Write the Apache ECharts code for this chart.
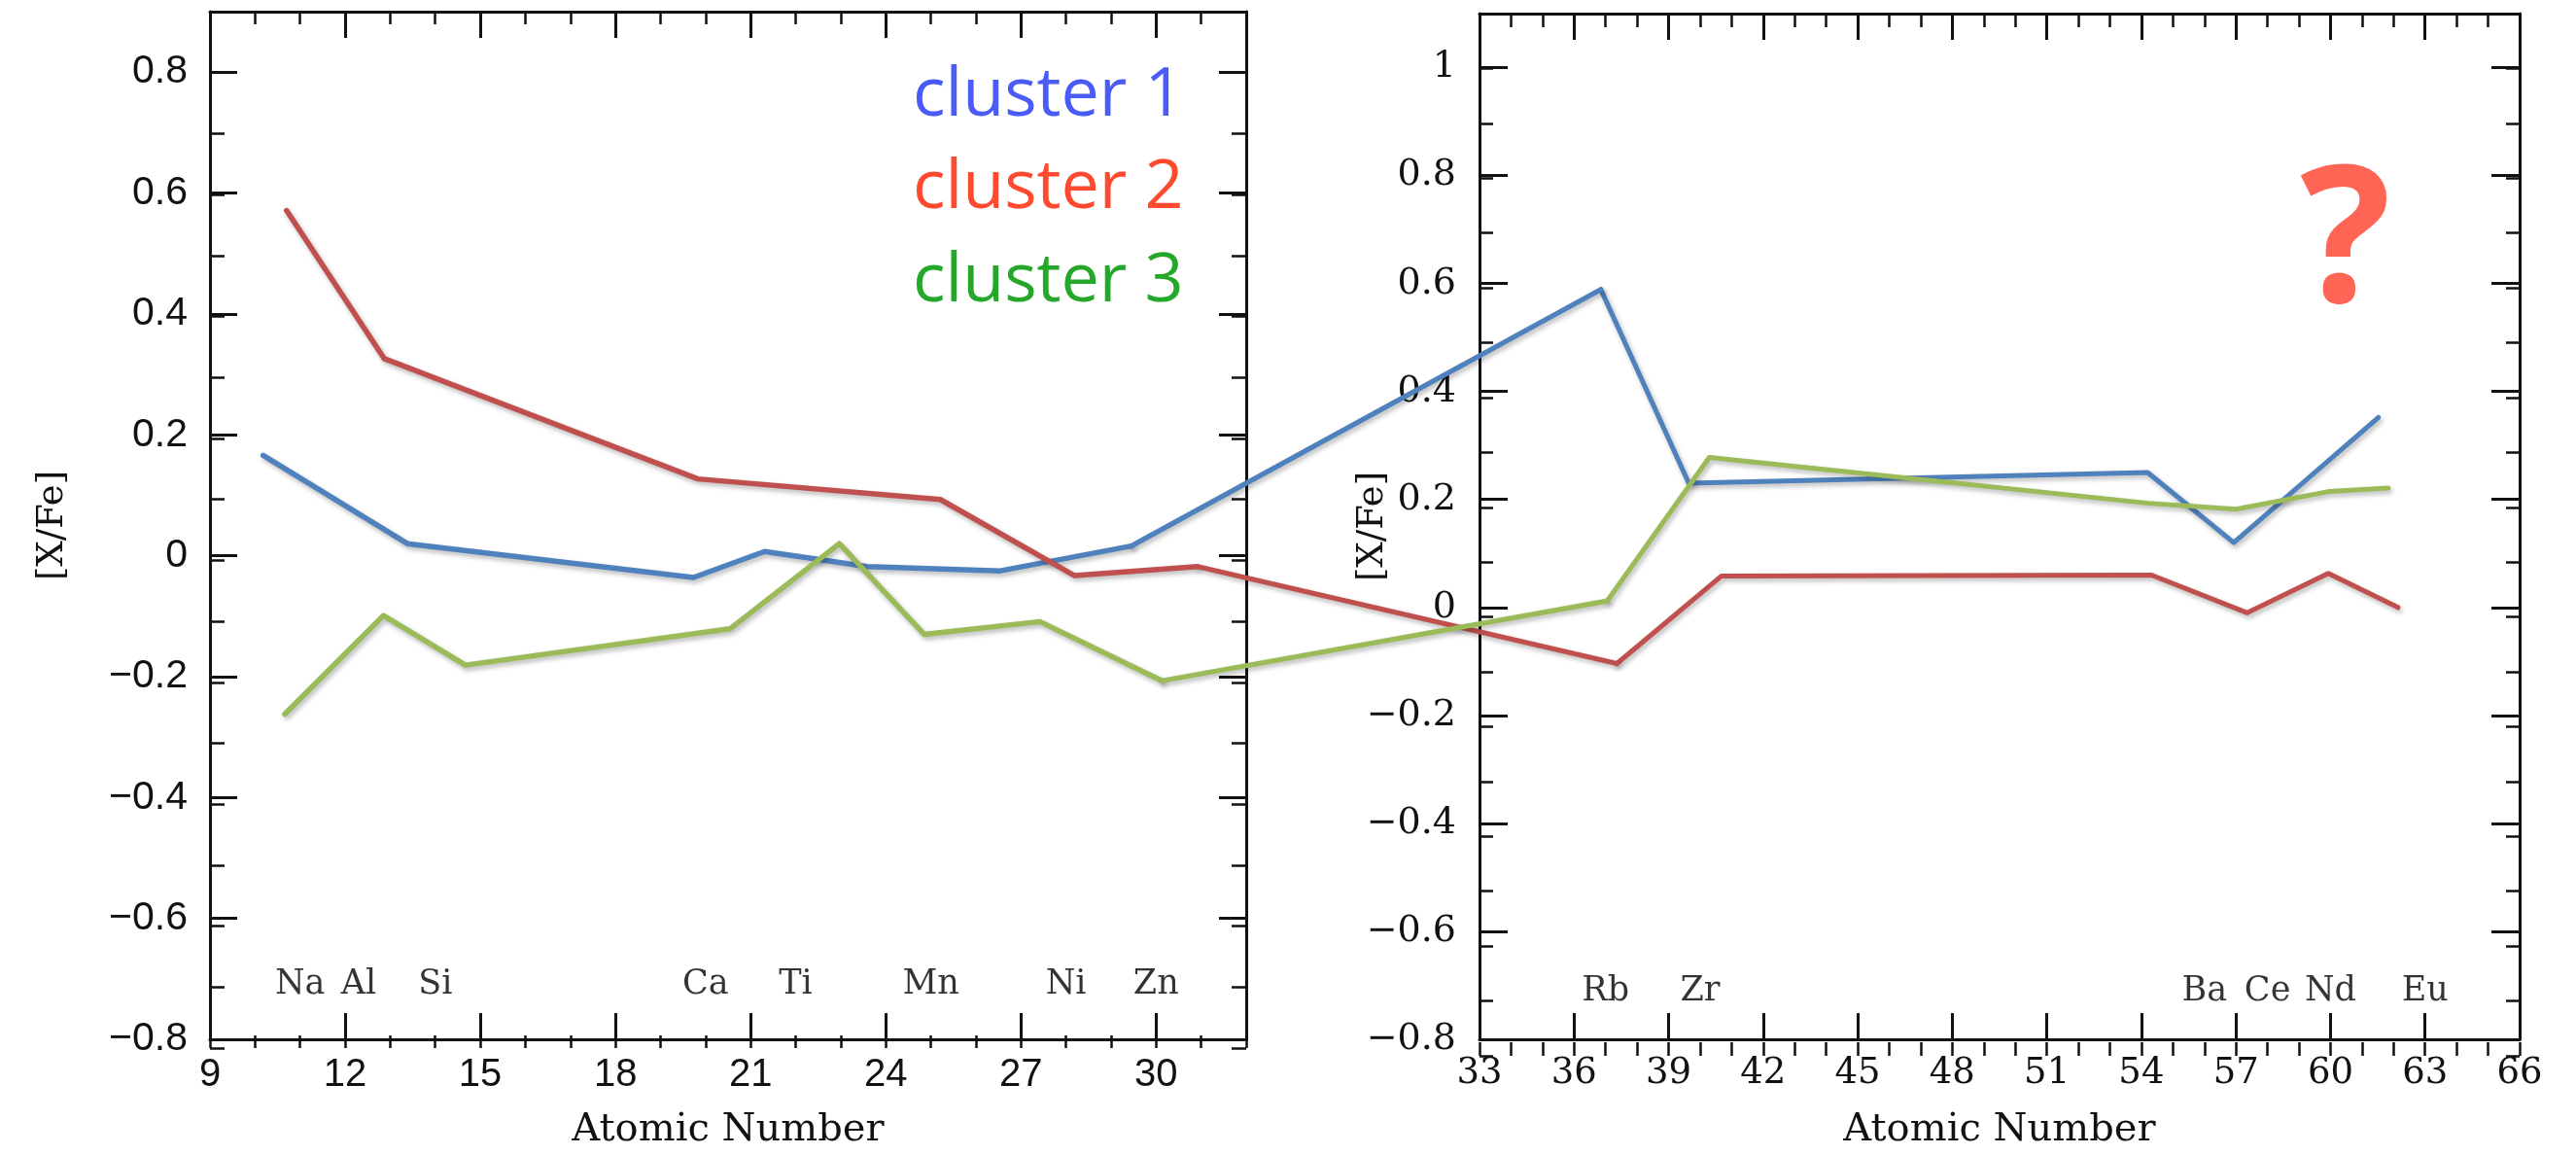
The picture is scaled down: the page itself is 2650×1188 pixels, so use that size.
<!DOCTYPE html>
<html>
<head>
<meta charset="utf-8">
<script src="https://cdn.jsdelivr.net/npm/echarts@6/dist/echarts.min.js"></script>
<style>
html,body{margin:0;padding:0;background:#ffffff;}
#chart{width:2650px;height:1188px;}
</style>
</head>
<body>
<div id="chart"></div>
<script>
// ---------------- DATA ----------------
// element labels (atomic number positions)
const leftElements = ['Na', 'Al', 'Si', 'Ca', 'Ti', 'Mn', 'Ni', 'Zn'];
const leftElementZ = [11, 12.3, 14, 20, 22, 25, 28, 30];
const rightElements = ['Rb', 'Zr', 'Ba', 'Ce', 'Nd', 'Eu'];
const rightElementZ = [37, 40, 56, 58, 60, 63];
const elementLabelLevel = -0.7;

// tick labels
const leftXTicks = [9, 12, 15, 18, 21, 24, 27, 30];
const leftYTicks = [-0.8, -0.6, -0.4, -0.2, 0, 0.2, 0.4, 0.6, 0.8];
const rightXTicks = [33, 36, 39, 42, 45, 48, 51, 54, 57, 60, 63, 66];
const rightYTicks = [-0.8, -0.6, -0.4, -0.2, 0, 0.2, 0.4, 0.6, 0.8, 1];

// cluster 1 (blue)
const cluster1LeftZ = [10.18, 13.38, 19.73, 21.31, 23.59, 26.54, 29.45];
const cluster1LeftVal = [0.166, 0.020, -0.036, 0.007, -0.018, -0.025, 0.016];
const cluster1RightZ = [36.85, 39.64, 54.20, 56.93, 61.52];
const cluster1RightVal = [0.589, 0.230, 0.250, 0.120, 0.352];

// cluster 2 (red)
const cluster2LeftZ = [10.70, 12.87, 19.83, 25.21, 28.19, 30.92];
const cluster2LeftVal = [0.571, 0.326, 0.127, 0.093, -0.033, -0.018];
const cluster2RightZ = [37.36, 40.67, 54.32, 57.36, 59.93, 62.14];
const cluster2RightVal = [-0.104, 0.058, 0.060, -0.010, 0.063, 0.000];

// cluster 3 (green)
const cluster3LeftZ = [10.66, 12.85, 14.67, 20.54, 22.97, 24.85, 27.42, 30.13];
const cluster3LeftVal = [-0.262, -0.099, -0.181, -0.121, 0.020, -0.130, -0.109, -0.207];
const cluster3RightZ = [37.05, 40.29, 54.23, 57.00, 59.98, 61.83];
const cluster3RightVal = [0.012, 0.278, 0.193, 0.182, 0.215, 0.221];

const legendNames = ['cluster 1', 'cluster 2', 'cluster 3'];

// ---------------- STYLE ----------------
const INK = '#111111';
const lineColors = ['#4F81BD', '#C0504D', '#9BBB59'];
const legendColors = ['#4A5CF7', '#FF4A30', '#25A82A'];
const SERIF = '"DejaVu Serif", serif';
const SANS = '"Liberation Sans", Arial, sans-serif';

const clusters = [
  {lz: cluster1LeftZ, lv: cluster1LeftVal, rz: cluster1RightZ, rv: cluster1RightVal},
  {lz: cluster2LeftZ, lv: cluster2LeftVal, rz: cluster2RightZ, rv: cluster2RightVal},
  {lz: cluster3LeftZ, lv: cluster3LeftVal, rz: cluster3RightZ, rv: cluster3RightVal}
];

function zip(a, b) { return a.map((v, i) => [v, b[i]]); }
function fmt(v) {
  const s = String(Math.round(Math.abs(v) * 10) / 10);
  return v < -1e-9 ? '\u2212' + s : s;
}

const LEFT_GRID = {left: 216, top: 12, width: 1066, height: 1066};
const RIGHT_GRID = {left: 1522, top: 14, width: 1070, height: 1072};
const W = 2650, H = 1188;

function baseAxis(gridIndex, position, min, max) {
  return {
    type: 'value', gridIndex: gridIndex, position: position, min: min, max: max,
    splitLine: {show: false},
    axisLine: {show: true, onZero: false, lineStyle: {color: INK, width: 3}},
    axisTick: {show: true, inside: true, lineStyle: {color: INK, width: 3}},
    axisLabel: {show: false},
    silent: true
  };
}
function majorAxis(gridIndex, position, min, max, interval, ticks, len, labelOpts) {
  const a = baseAxis(gridIndex, position, min, max);
  a.interval = interval;
  a.axisTick.length = len;
  a.axisTick.customValues = ticks;
  if (labelOpts) {
    a.axisLabel = Object.assign({show: true, customValues: ticks, formatter: fmt,
      color: INK, showMinLabel: true, showMaxLabel: true, hideOverlap: false}, labelOpts);
  }
  return a;
}
function minorAxis(gridIndex, position, min, max, interval, len) {
  const a = baseAxis(gridIndex, position, min, max);
  a.interval = interval;
  a.axisLine.show = false;
  a.axisTick.length = len;
  a.axisTick.lineStyle = {color: INK, width: 2.5};
  return a;
}

const xAxes = [];
const yAxes = [];
// left panel major (grid 0)
xAxes.push(Object.assign(majorAxis(0, 'bottom', 9, 32, 3, leftXTicks, 27,
  {margin: 17, fontFamily: SANS, fontSize: 40}), {
  name: 'Atomic Number', nameLocation: 'middle', nameGap: 74, nameMoveOverlap: false,
  nameTextStyle: {fontFamily: SERIF, fontSize: 40, color: INK}
}));
xAxes.push(majorAxis(0, 'top', 9, 32, 3, leftXTicks, 27, null));
yAxes.push(Object.assign(majorAxis(0, 'left', -0.8, 0.9, 0.2, leftYTicks, 28,
  {margin: 23, fontFamily: SANS, fontSize: 41}), {
  name: '[X/Fe]', nameLocation: 'middle', nameGap: 143, nameRotate: 90, nameMoveOverlap: false,
  nameTextStyle: {fontFamily: SERIF, fontSize: 37, color: INK}
}));
yAxes.push(majorAxis(0, 'right', -0.8, 0.9, 0.2, leftYTicks, 28, null));
// left panel minor (grid 1)
xAxes.push(minorAxis(1, 'bottom', 9, 32, 1, 13));
xAxes.push(minorAxis(1, 'top', 9, 32, 1, 13));
yAxes.push(minorAxis(1, 'left', -0.8, 0.9, 0.1, 15));
yAxes.push(minorAxis(1, 'right', -0.8, 0.9, 0.1, 15));
// right panel major (grid 2)
xAxes.push(Object.assign(majorAxis(2, 'bottom', 33, 66, 3, rightXTicks, 27,
  {margin: 17, fontFamily: SERIF, fontSize: 37}), {
  name: 'Atomic Number', nameLocation: 'middle', nameGap: 74, nameMoveOverlap: false,
  nameTextStyle: {fontFamily: SERIF, fontSize: 40, color: INK}
}));
xAxes.push(majorAxis(2, 'top', 33, 66, 3, rightXTicks, 27, null));
yAxes.push(Object.assign(majorAxis(2, 'left', -0.8, 1.1, 0.2, rightYTicks, 29,
  {margin: 24, fontFamily: SERIF, fontSize: 38}), {
  name: '[X/Fe]', nameLocation: 'middle', nameGap: 91, nameRotate: 90, nameMoveOverlap: false,
  nameTextStyle: {fontFamily: SERIF, fontSize: 37, color: INK}
}));
yAxes.push(majorAxis(2, 'right', -0.8, 1.1, 0.2, rightYTicks, 29, null));
// right panel minor (grid 3)
xAxes.push(minorAxis(3, 'bottom', 33, 66, 1, 14));
xAxes.push(minorAxis(3, 'top', 33, 66, 1, 14));
yAxes.push(minorAxis(3, 'left', -0.8, 1.1, 0.1, 14));
yAxes.push(minorAxis(3, 'right', -0.8, 1.1, 0.1, 14));
// full-canvas overlay (grid 4) used only for the segments that cross between the panels
xAxes.push({type: 'value', gridIndex: 4, min: 0, max: W, show: false});
yAxes.push({type: 'value', gridIndex: 4, min: 0, max: H, inverse: true, show: false});

function lineStyleFor(k, w) {
  return {color: lineColors[k], width: w, cap: 'round', join: 'round',
    shadowColor: 'rgba(0,0,0,0.28)', shadowBlur: 5, shadowOffsetX: 2, shadowOffsetY: 3};
}

const series = [];
clusters.forEach((c, k) => {
  series.push({id: 'L' + k, name: legendNames[k], type: 'line', xAxisIndex: 0, yAxisIndex: 0,
    data: zip(c.lz, c.lv), symbol: 'none', clip: false, silent: true, z: 5,
    lineStyle: lineStyleFor(k, 5.5)});
  series.push({id: 'R' + k, name: legendNames[k], type: 'line', xAxisIndex: 4, yAxisIndex: 4,
    data: zip(c.rz, c.rv), symbol: 'none', clip: false, silent: true, z: 5,
    lineStyle: lineStyleFor(k, 5)});
  series.push({id: 'B' + k, name: legendNames[k], type: 'line', xAxisIndex: 8, yAxisIndex: 8,
    data: [], symbol: 'none', clip: false, silent: true, z: 5,
    lineStyle: lineStyleFor(k, 5.2)});
});

function labelSeries(xi, yi, zs, names) {
  return {type: 'scatter', xAxisIndex: xi, yAxisIndex: yi, silent: true, z: 3,
    symbolSize: 1, itemStyle: {color: 'rgba(0,0,0,0)'},
    data: zs.map((z, i) => ({name: names[i], value: [z, elementLabelLevel]})),
    label: {show: true, position: 'inside', offset: [0, 6], formatter: '{b}', color: '#000000',
      fontFamily: SERIF, fontSize: 35}};
}
series.push(labelSeries(0, 0, leftElementZ, leftElements));
series.push(labelSeries(4, 4, rightElementZ, rightElements));

const legendBaseY = [99, 194, 290];
const graphic = legendNames.map((t, i) => ({
  type: 'text', x: 939, y: legendBaseY[i], silent: true, z: 10,
  style: {text: t, fill: legendColors[i], font: '70px "Open Sans", "Noto Sans", sans-serif',
    align: 'left', verticalAlign: 'middle', textAlign: 'left', textVerticalAlign: 'middle'}
}));
graphic.push({
  type: 'text', x: 2413, y: 254, silent: true, z: 10,
  style: {text: '?', fill: '#FF6555', font: 'bold 196px "Open Sans", "Noto Sans", sans-serif',
    align: 'center', verticalAlign: 'middle', textAlign: 'center', textVerticalAlign: 'middle'}
});

const option = {
  animation: false,
  backgroundColor: '#ffffff',
  grid: [
    Object.assign({containLabel: false}, LEFT_GRID),
    Object.assign({containLabel: false}, LEFT_GRID),
    Object.assign({containLabel: false}, RIGHT_GRID),
    Object.assign({containLabel: false}, RIGHT_GRID),
    {left: 0, top: 0, width: W, height: H, containLabel: false}
  ],
  xAxis: xAxes,
  yAxis: yAxes,
  series: series,
  graphic: graphic
};

const chart = echarts.init(document.getElementById('chart'), null, {renderer: 'canvas'});
chart.setOption(option);

// connecting segments between the two panels: last left-panel vertex and first
// right-panel vertex, each placed through its own panel's scales
const bridges = clusters.map((c, k) => {
  const li = c.lz.length - 1;
  const a = chart.convertToPixel({seriesId: 'L' + k}, [c.lz[li], c.lv[li]]);
  const b = chart.convertToPixel({seriesId: 'R' + k}, [c.rz[0], c.rv[0]]);
  return {id: 'B' + k, data: [a, b]};
});
chart.setOption({series: bridges});
</script>
</body>
</html>
